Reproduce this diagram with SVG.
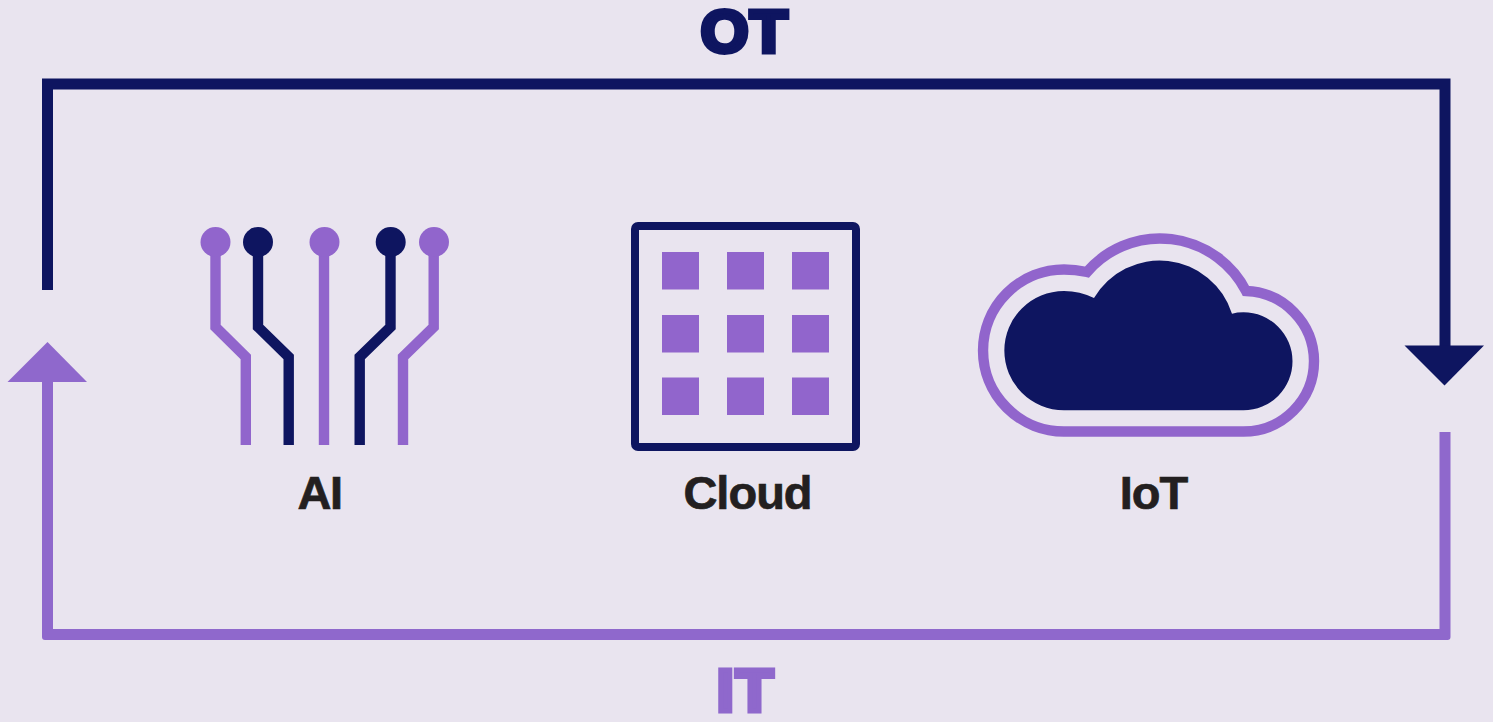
<svg xmlns="http://www.w3.org/2000/svg" width="1493" height="722" viewBox="0 0 1493 722">
<style>
.bg{fill:#E9E4EF}
.n{fill:#0E1560}
.p{fill:#9165CC}
.tn{fill:none;stroke:#0E1560;stroke-width:10.4;stroke-linejoin:miter}
.tp{fill:none;stroke:#9165CC;stroke-width:10.4;stroke-linejoin:miter}
.lbl{font-family:"Liberation Sans",Arial,sans-serif;font-weight:700;font-size:47px;fill:#231F20;stroke:#231F20;stroke-width:.7;text-anchor:middle}
.big{font-family:"Liberation Sans",Arial,sans-serif;font-weight:700;font-size:59px;text-anchor:middle;stroke-width:5;stroke-linejoin:miter}
</style>
<rect class="bg" width="1493" height="722"/>
<g id="connectors">
<path d="M47.500 290V84H1445V350" fill="none" stroke="#0E1560" stroke-width="11" stroke-linejoin="miter"/>
<polygon points="1404.500,345.500 1484,345.500 1444.500,385.500" fill="#0E1560"/>
<path d="M1439.500 432V629H53V378H42V637A3 3 0 0 0 45 640H1447.500A3 3 0 0 0 1450.500 637V432Z" fill="#8F68CC"/>
<polygon points="7.500,382 87,382 47.500,342" fill="#8F68CC"/>
</g>
<g id="ot-label"><text class="big" transform="translate(745 51.500) scale(1.04 1)" letter-spacing="1.500" fill="#0E1560" stroke="#0E1560">OT</text></g>
<g id="it-label"><text class="big" transform="translate(746 710.500) scale(1.04 1)" letter-spacing="2" fill="#8F68CC" stroke="#8F68CC">IT</text></g>
<g id="ai">
<path class="tp" d="M215.500 242V327L245.800 357V445"/>
<path class="tn" d="M258 242V327L288.700 357V445"/>
<path class="tp" d="M324 242V445"/>
<path class="tn" d="M390.500 242V327L359.700 357V445"/>
<path class="tp" d="M433.700 242V327L403 357V445"/>
<circle class="p" cx="215.500" cy="242" r="15"/>
<circle class="n" cx="258" cy="242" r="15"/>
<circle class="p" cx="324.500" cy="242" r="15"/>
<circle class="n" cx="390.700" cy="242" r="15"/>
<circle class="p" cx="434" cy="242" r="15"/>
<text class="lbl" x="319.500" y="509" letter-spacing="-1.500">AI</text>
</g>
<g id="cloud">
<rect x="635" y="226" width="221" height="221" rx="3" fill="none" stroke="#0E1560" stroke-width="8"/>
<g class="p">
<rect x="662" y="252" width="37" height="37.500"/><rect x="727" y="252" width="37" height="37.500"/><rect x="792" y="252" width="37" height="37.500"/>
<rect x="662" y="315" width="37" height="37.500"/><rect x="727" y="315" width="37" height="37.500"/><rect x="792" y="315" width="37" height="37.500"/>
<rect x="662" y="377.500" width="37" height="37.500"/><rect x="727" y="377.500" width="37" height="37.500"/><rect x="792" y="377.500" width="37" height="37.500"/>
</g>
<text class="lbl" x="747.500" y="509" letter-spacing="-1">Cloud</text>
</g>
<g id="iot">
<path d="M1064 431.500A81 81 0 0 1 1064 269.500Q1075 269.500 1087 272A96.500 96.500 0 0 1 1246 291A70.500 70.500 0 0 1 1314 361A70.500 70.500 0 0 1 1243.500 431.500Z" fill="none" stroke="#9165CC" stroke-width="10.400"/>
<path class="n" d="M1064 410.300A59.700 59.700 0 0 1 1064 290.900Q1080 290.900 1094 298A76 76 0 0 1 1232 313.700Q1237 312.300 1243.500 312.300A49 49 0 0 1 1243.500 410.300Z"/>
<text class="lbl" x="1153.500" y="509" letter-spacing="-1">IoT</text>
</g>
</svg>
